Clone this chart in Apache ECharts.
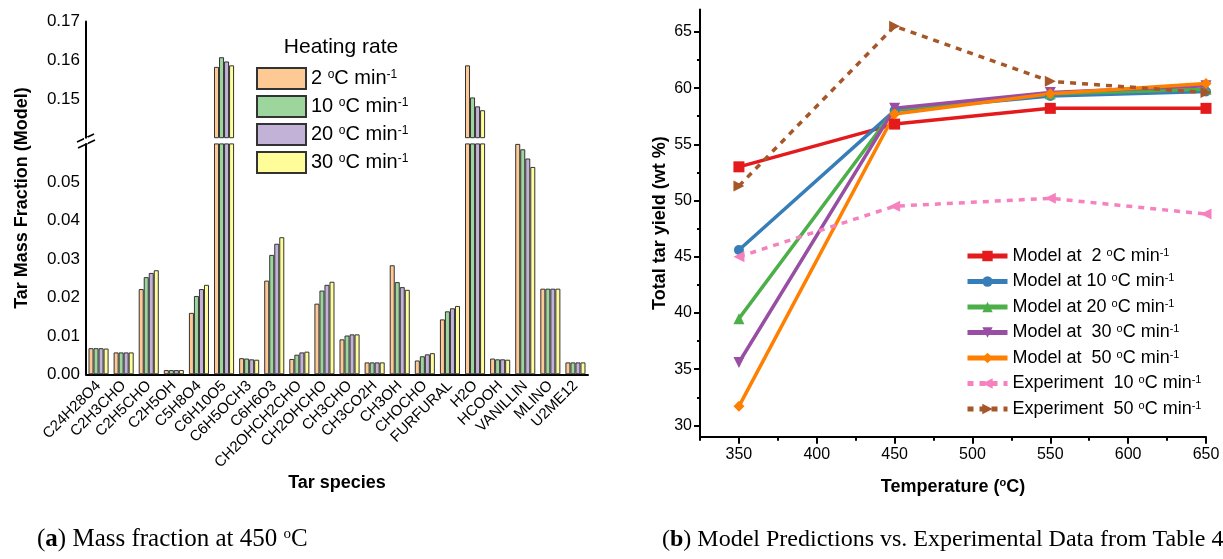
<!DOCTYPE html>
<html>
<head>
<meta charset="utf-8">
<script src="https://cdn.jsdelivr.net/npm/echarts@6/dist/echarts.min.js"></script>
<style>
  html, body { margin: 0; padding: 0; background: #fff; }
  #main { width: 1223px; height: 559px; }
</style>
</head>
<body>
<div id="main"></div>
<script>
// ---- left chart data: tar mass fraction at 450 C ----
var species = ['C24H28O4', 'C2H3CHO', 'C2H5CHO', 'C2H5OH', 'C5H8O4', 'C6H10O5', 'C6H5OCH3', 'C6H6O3',
  'CH2OHCH2CHO', 'CH2OHCHO', 'CH3CHO', 'CH3CO2H', 'CH3OH', 'CHOCHO', 'FURFURAL', 'H2O', 'HCOOH',
  'VANILLIN', 'MLINO', 'U2ME12'];
var rateNames = ['2 °C min-1', '10 °C min-1', '20 °C min-1', '30 °C min-1'];
var rate2 = [0.0068, 0.0057, 0.0222, 0.0011, 0.0160, 0.1583, 0.0042, 0.0244, 0.0040, 0.0184, 0.0091, 0.0031, 0.0284, 0.0036, 0.0143, 0.1587, 0.0041, 0.0600, 0.0223, 0.0031];
var rate10 = [0.0068, 0.0057, 0.0253, 0.0011, 0.0204, 0.1608, 0.0041, 0.0311, 0.0051, 0.0218, 0.0101, 0.0031, 0.0240, 0.0047, 0.0164, 0.1504, 0.0039, 0.0586, 0.0223, 0.0031];
var rate20 = [0.0068, 0.0057, 0.0264, 0.0011, 0.0222, 0.1597, 0.0039, 0.0340, 0.0057, 0.0233, 0.0104, 0.0031, 0.0227, 0.0052, 0.0172, 0.1481, 0.0039, 0.0562, 0.0223, 0.0031];
var rate30 = [0.0067, 0.0057, 0.0271, 0.0011, 0.0233, 0.1587, 0.0038, 0.0357, 0.0059, 0.0241, 0.0104, 0.0031, 0.0220, 0.0055, 0.0178, 0.1471, 0.0038, 0.0540, 0.0223, 0.0031];
var barColors = ['#FDC994', '#9DD69D', '#C2B2D8', '#FFFD9A'];

var upperTicks = [0.15, 0.16, 0.17];
var upperMinor = [0.145, 0.155, 0.165];
var lowerTicks = [0, 0.01, 0.02, 0.03, 0.04, 0.05];
var lowerMinor = [0.005, 0.015, 0.025, 0.035, 0.045, 0.055];

// ---- right chart data: total tar yield ----
var temps = [350, 450, 550, 650];
var model2 = [53.0, 56.8, 58.2, 58.2];
var model10 = [45.6, 58.0, 59.3, 59.7];
var model20 = [39.5, 58.1, 59.5, 59.9];
var model30 = [35.6, 58.2, 59.6, 60.2];
var model50 = [31.7, 57.7, 59.5, 60.4];
var exp10 = [45.0, 49.5, 50.2, 48.8];
var exp50 = [51.3, 65.5, 60.6, 59.6];

var tempTicks = [350, 400, 450, 500, 550, 600, 650];
var tempMinor = [325, 375, 425, 475, 525, 575, 625];
var yieldTicks = [30, 35, 40, 45, 50, 55, 60, 65];
var yieldMinor = [32.5, 37.5, 42.5, 47.5, 52.5, 57.5, 62.5];

var FONT = '"Liberation Sans", Arial, sans-serif';
var SERIF = '"Liberation Serif", "Times New Roman", serif';

function withSup(name) {
  return name.replace('°', '{sup|o}').replace('-1', '{sup|-1}');
}

var chart = echarts.init(document.getElementById('main'));

var rates = [rate2, rate10, rate20, rate30];
var series = [];
// lower part of the broken axis (0 - 0.06)
rates.forEach(function (arr, k) {
  series.push({
    name: rateNames[k], type: 'bar', xAxisIndex: 1, yAxisIndex: 2,
    data: arr, barGap: 0, barCategoryGap: '20%', clip: true,
    itemStyle: { color: barColors[k], borderColor: '#333', borderWidth: 1 }
  });
});
// upper part of the broken axis (0.14 - 0.17)
rates.forEach(function (arr, k) {
  series.push({
    name: rateNames[k], type: 'bar', xAxisIndex: 0, yAxisIndex: 0,
    data: arr.map(function (v) { return v >= 0.14 ? v : '-'; }),
    barGap: 0, barCategoryGap: '20%', clip: true,
    itemStyle: { color: barColors[k], borderColor: '#333', borderWidth: 1 }
  });
});

var lineDefs = [
  { name: 'Model at  2 °C min-1', data: model2, color: '#E41A1C', symbol: 'rect', rot: 0, dash: false },
  { name: 'Model at 10 °C min-1', data: model10, color: '#377EB8', symbol: 'circle', rot: 0, dash: false },
  { name: 'Model at 20 °C min-1', data: model20, color: '#4DAF4A', symbol: 'triangle', rot: 0, dash: false },
  { name: 'Model at  30 °C min-1', data: model30, color: '#984EA3', symbol: 'triangle', rot: 180, dash: false },
  { name: 'Model at  50 °C min-1', data: model50, color: '#FF7F00', symbol: 'diamond', rot: 0, dash: false },
  { name: 'Experiment  10 °C min-1', data: exp10, color: '#F781BF', symbol: 'triangle', rot: 90, dash: true },
  { name: 'Experiment  50 °C min-1', data: exp50, color: '#A65628', symbol: 'triangle', rot: -90, dash: true }
];
lineDefs.forEach(function (d) {
  series.push({
    name: d.name, type: 'line', xAxisIndex: 3, yAxisIndex: 4,
    data: temps.map(function (t, i) { return [t, d.data[i]]; }),
    symbol: d.symbol, symbolSize: d.symbol === 'circle' ? 10 : 11, symbolRotate: d.rot,
    color: d.color,
    itemStyle: { color: d.color },
    lineStyle: { color: d.color, width: 3.5, type: d.dash ? [6, 6] : 'solid' }
  });
});

var axisLine = { show: true, lineStyle: { color: '#000', width: 2 } };
var labelStyle = { color: '#000', fontFamily: FONT, fontSize: 16 };

var option = {
  animation: false,
  backgroundColor: '#fff',
  textStyle: { fontFamily: FONT },
  title: [
    {
      text: '({b|a}) Mass fraction at 450 {sup|o}C', left: 32, top: 522,
      textStyle: {
        fontFamily: SERIF, fontSize: 25, fontWeight: 'normal', color: '#000',
        rich: { b: { fontFamily: SERIF, fontSize: 25, fontWeight: 'bold' }, sup: { fontFamily: SERIF, fontSize: 15, verticalAlign: 'top' } }
      }
    },
    {
      text: '({b|b}) Model Predictions vs. Experimental Data from Table 4', left: 657, top: 523,
      textStyle: {
        fontFamily: SERIF, fontSize: 24, fontWeight: 'normal', color: '#000',
        rich: { b: { fontFamily: SERIF, fontSize: 24, fontWeight: 'bold' } }
      }
    }
  ],
  legend: [
    {
      data: rateNames, orient: 'vertical', left: 251, top: 62,
      itemWidth: 49, itemHeight: 21, itemGap: 5, icon: 'rect',
      formatter: withSup,
      textStyle: { fontFamily: FONT, fontSize: 20, color: '#000', rich: { sup: { fontFamily: FONT, fontSize: 12, verticalAlign: 'top' } } }
    },
    {
      data: lineDefs.map(function (d) { return d.name; }),
      orient: 'vertical', left: 960, top: 242,
      itemWidth: 40, itemHeight: 13, itemGap: 7.5,
      lineStyle: { width: 5 },
      formatter: withSup,
      textStyle: { fontFamily: FONT, fontSize: 18, color: '#000', rich: { sup: { fontFamily: FONT, fontSize: 11, verticalAlign: 'top' } } }
    }
  ],
  grid: [
    { left: 86, top: 21.6, width: 502, height: 116.1 },
    { left: 86, top: 143.9, width: 502, height: 230.4 },
    { left: 700, top: 9.4, width: 506, height: 427.3 }
  ],
  xAxis: [
    { gridIndex: 0, type: 'category', data: species, show: false },
    {
      gridIndex: 1, type: 'category', data: species, position: 'bottom',
      axisLine: axisLine,
      axisTick: { alignWithLabel: true, length: 7, lineStyle: { color: '#000', width: 1.5 } },
      axisLabel: { interval: 0, rotate: 45, margin: 9, color: '#000', fontFamily: FONT, fontSize: 15 },
      name: 'Tar species', nameLocation: 'middle', nameGap: 100,
      nameTextStyle: { fontFamily: FONT, fontSize: 18, fontWeight: 'bold', color: '#000' }
    },
    {
      gridIndex: 1, type: 'category', data: species, position: 'bottom',
      axisLine: { show: false }, axisLabel: { show: false },
      axisTick: { length: 3, lineStyle: { color: '#000', width: 1.5 } }
    },
    {
      gridIndex: 2, type: 'value', min: 325, max: 650, position: 'bottom',
      axisLine: axisLine, splitLine: { show: false },
      axisTick: { customValues: tempTicks, length: 7, lineStyle: { color: '#000', width: 2 } },
      axisLabel: Object.assign({ customValues: tempTicks, margin: 10 }, labelStyle),
      name: 'Temperature ({sup|o}C)', nameLocation: 'middle', nameGap: 41,
      nameTextStyle: { fontFamily: FONT, fontSize: 18, fontWeight: 'bold', color: '#000', rich: { sup: { fontFamily: FONT, fontSize: 11, fontWeight: 'bold', verticalAlign: 'top' } } }
    },
    {
      gridIndex: 2, type: 'value', min: 325, max: 650, position: 'bottom',
      axisLine: { show: false }, axisLabel: { show: false }, splitLine: { show: false },
      axisTick: { customValues: tempMinor, length: 4, lineStyle: { color: '#000', width: 2 } }
    }
  ],
  yAxis: [
    {
      gridIndex: 0, type: 'value', min: 0.14, max: 0.17, position: 'left',
      axisLine: axisLine, splitLine: { show: false },
      axisTick: { customValues: upperTicks, length: 8, lineStyle: { color: '#000', width: 1.5 } },
      axisLabel: Object.assign({ customValues: upperTicks, margin: 6, formatter: function (v) { return v.toFixed(2); } }, labelStyle, { fontSize: 17 })
    },
    {
      gridIndex: 0, type: 'value', min: 0.14, max: 0.17, position: 'left',
      axisLine: { show: false }, axisLabel: { show: false }, splitLine: { show: false },
      axisTick: { customValues: upperMinor, length: 4, lineStyle: { color: '#000', width: 1.5 } }
    },
    {
      gridIndex: 1, type: 'value', min: 0, max: 0.06, position: 'left',
      axisLine: axisLine, splitLine: { show: false },
      axisTick: { customValues: lowerTicks, length: 8, lineStyle: { color: '#000', width: 1.5 } },
      axisLabel: Object.assign({ customValues: lowerTicks, margin: 6, formatter: function (v) { return v.toFixed(2); } }, labelStyle, { fontSize: 17 })
    },
    {
      gridIndex: 1, type: 'value', min: 0, max: 0.06, position: 'left',
      axisLine: { show: false }, axisLabel: { show: false }, splitLine: { show: false },
      axisTick: { customValues: lowerMinor, length: 4, lineStyle: { color: '#000', width: 1.5 } }
    },
    {
      gridIndex: 2, type: 'value', min: 29, max: 67, position: 'left',
      axisLine: axisLine, splitLine: { show: false },
      axisTick: { customValues: yieldTicks, length: 6, lineStyle: { color: '#000', width: 2 } },
      axisLabel: Object.assign({ customValues: yieldTicks, margin: 8 }, labelStyle),
      name: 'Total tar yield (wt %)', nameLocation: 'middle', nameGap: 31, nameRotate: 90,
      nameTextStyle: { fontFamily: FONT, fontSize: 18, fontWeight: 'bold', color: '#000' }
    },
    {
      gridIndex: 2, type: 'value', min: 29, max: 67, position: 'left',
      axisLine: { show: false }, axisLabel: { show: false }, splitLine: { show: false },
      axisTick: { customValues: yieldMinor, length: 3, lineStyle: { color: '#000', width: 2 } }
    }
  ],
  graphic: [
    {
      type: 'text', x: 22, y: 198, rotation: Math.PI / 2,
      style: { text: 'Tar Mass Fraction (Model)', fontFamily: FONT, fontSize: 18, fontWeight: 'bold', fill: '#000', align: 'center', verticalAlign: 'middle' }
    },
    {
      type: 'text', x: 341, y: 47,
      style: { text: 'Heating rate', fontFamily: FONT, fontSize: 21, fill: '#000', align: 'center', verticalAlign: 'middle' }
    },
    // axis break marks
    { type: 'line', shape: { x1: 77, y1: 142, x2: 94, y2: 134 }, style: { stroke: '#000', lineWidth: 1.5 } },
    { type: 'line', shape: { x1: 78, y1: 148, x2: 95, y2: 140 }, style: { stroke: '#000', lineWidth: 1.5 } },
    { type: 'rect', shape: { x: 84, y: 137.2, width: 4, height: 6.2 }, style: { fill: '#fff' } }
  ],
  series: series
};

chart.setOption(option);
</script>
</body>
</html>
